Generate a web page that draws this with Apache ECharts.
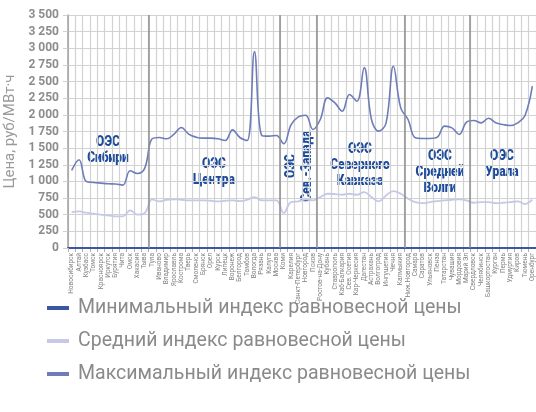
<!DOCTYPE html>
<html>
<head>
<meta charset="utf-8">
<script src="https://cdn.jsdelivr.net/npm/echarts@6/dist/echarts.min.js"></script>
<style>
  html, body { margin: 0; padding: 0; background: #ffffff; }
  #chart { width: 536px; height: 412px; }
</style>
</head>
<body>
<div id="chart"></div>
<script>
// Regions of the energy systems (ОЭС), in axis order
const categories = [
  'Новосибирск', 'Алтай', 'Кузбасс', 'Томск', 'Красноярск', 'Иркутск', 'Бурятия', 'Чита', 'Омск', 'Хакасия', 'Тыва',
  'Тула', 'Иваново', 'Владимир', 'Ярославль', 'Кострома', 'Тверь', 'Смоленск', 'Брянск', 'Орел', 'Курск', 'Липецк',
  'Воронеж', 'Белгород', 'Тамбов', 'Вологда', 'Рязань', 'Калуга', 'Москва',
  'Коми', 'Карелия', 'Санкт-Петербург', 'Новгород', 'Псков',
  'Ростов-на-Дону', 'Кубань', 'Ставрополь', 'Каб-Балкария', 'Сев. Осетия', 'Кар-Черкесия', 'Дагестан', 'Астрахань',
  'Волгоград', 'Ингушетия', 'Чечня', 'Калмыкия',
  'Ниж.Новгород', 'Самара', 'Саратов', 'Ульяновск', 'Пенза', 'Татарстан', 'Чувашия', 'Мордовия', 'Марий Эл',
  'Свердловск', 'Челябинск', 'Башкортостан', 'Курган', 'Пермь', 'Удмуртия', 'Киров', 'Тюмень', 'Оренбург'
];

// Minimum equilibrium price index, руб/МВт·ч
const minIndex = [
  0, 0, 0, 0, 0, 0, 0, 0, 0, 0, 0,
  0, 0, 0, 0, 0, 0, 0, 0, 0, 0, 0,
  0, 0, 0, 0, 0, 0, 0,
  0, 0, 0, 0, 0,
  0, 0, 0, 0, 0, 0, 0, 0,
  0, 0, 0, 0,
  0, 0, 0, 0, 0, 0, 0, 0, 0,
  0, 0, 0, 0, 0, 0, 0, 0, 0
];

// Average equilibrium price index, руб/МВт·ч
const avgIndex = [
  540, 550, 530, 515, 500, 490, 475, 475, 565, 500, 525,
  730, 700, 725, 730, 725, 715, 715, 715, 710, 700, 710,
  715, 705, 725, 765, 715, 715, 715,
  525, 690, 700, 730, 715,
  765, 815, 810, 800, 815, 800, 840, 765,
  700, 790, 855, 815,
  740, 690, 675, 690, 705, 715, 725, 730, 715,
  680, 690, 690, 675, 680, 690, 700, 660, 725
];

// Maximum equilibrium price index, руб/МВт·ч
const maxIndex = [
  1165, 1325, 1000, 985, 975, 965, 962, 945, 1160, 1120, 1200,
  1640, 1660, 1640, 1710, 1810, 1710, 1665, 1650, 1650, 1640, 1615,
  1775, 1660, 1615, 2950, 1690, 1680, 1690,
  1565, 1850, 1970, 1995, 1780,
  1930, 2255, 2180, 2055, 2305, 2205, 2710, 1930,
  1755, 1880, 2730, 2105,
  1930, 1655, 1645, 1645, 1665, 1830, 1805, 1705, 1890,
  1915, 1880, 1950, 1880, 1855, 1840, 1880, 1990, 2430
];

// Category index where each next energy system begins
const regionBounds = [11, 29, 34, 46, 55];

// Value axis ticks
const yMin = 0, yMax = 3500, yStep = 250;

const seriesNames = [
  'Минимальный индекс равновесной цены',
  'Средний индекс равновесной цены',
  'Максимальный индекс равновесной цены'
];

const FONT = "Roboto, 'Liberation Sans', sans-serif";
const C_MIN = '#3b56a5', C_AVG = '#c6c9e6', C_MAX = '#6e7cba';
const C_REGION = '#1b4a9b';

const chart = echarts.init(document.getElementById('chart'), null, { renderer: 'canvas' });

function groupDigits(v) {
  return String(v).replace(/\B(?=(\d{3})+(?!\d))/g, ' ');
}

// Bold condensed caption for an energy-system block
function regionText(text, x, y, rotation) {
  return {
    type: 'text', x: x, y: y, rotation: rotation || 0, scaleX: 0.8, silent: true,
    style: {
      text: text, textAlign: 'center', textVerticalAlign: 'middle',
      fill: C_REGION, font: '900 15px ' + FONT, lineHeight: 16
    }
  };
}

const option = {
  animation: false,
  backgroundColor: '#ffffff',
  grid: { left: 68, right: 0, top: 15, bottom: 164, containLabel: false, outerBoundsMode: 'none' },
  xAxis: [
    {
      type: 'category',
      position: 'bottom',
      data: categories,
      boundaryGap: true,
      axisLine: { show: true, onZero: false, lineStyle: { color: C_MIN, width: 2 } },
      axisTick: { show: true, interval: 0, length: 4, lineStyle: { color: '#b0b0b0' } },
      axisLabel: {
        interval: 0, rotate: 90, fontSize: 6.5, color: '#808080',
        fontFamily: FONT, margin: 5
      },
      splitLine: { show: true, interval: 0, lineStyle: { color: '#d2d2d2', width: 1.2 } }
    },
    { type: 'value', position: 'top', min: 0, max: categories.length, show: false }
  ],
  yAxis: {
    type: 'value',
    min: yMin, max: yMax, interval: yStep,
    name: 'Цена, руб/МВт·ч',
    nameLocation: 'middle',
    nameRotate: 90,
    nameGap: 46,
    nameTextStyle: { fontSize: 15, color: '#9a9a9a', fontFamily: FONT },
    axisLine: { show: true, lineStyle: { color: '#a0a0a0', width: 1.5 } },
    axisTick: { show: true, length: 5, lineStyle: { color: '#cfcfcf' } },
    axisLabel: {
      fontSize: 12, fontWeight: 'bold', color: '#8c8c8c', fontFamily: FONT, margin: 9,
      formatter: groupDigits
    },
    splitLine: { show: true, lineStyle: { color: '#d2d2d2', width: 1.2 } }
  },
  legend: {
    orient: 'vertical',
    left: 42, top: 291,
    itemWidth: 22, itemHeight: 4, itemGap: 9,
    icon: 'rect',
    data: seriesNames,
    textStyle: { fontSize: 19.5, color: '#8a8a8a', fontFamily: FONT, padding: [0, 0, 0, 4], lineHeight: 24 }
  },
  series: [
    {
      name: 'bounds', type: 'line', xAxisIndex: 1, data: [], silent: true,
      markLine: {
        silent: true, symbol: 'none', label: { show: false },
        lineStyle: { color: '#8e8e8e', width: 1.5, type: 'solid' },
        data: regionBounds.map(b => ({ xAxis: b }))
      }
    },
    {
      name: seriesNames[1], type: 'line', data: avgIndex, smooth: 0.4,
      symbol: 'none', lineStyle: { color: C_AVG, width: 1.8 }, itemStyle: { color: C_AVG }
    },
    {
      name: seriesNames[2], type: 'line', data: maxIndex, smooth: 0.4,
      symbol: 'none', lineStyle: { color: C_MAX, width: 1.6 }, itemStyle: { color: C_MAX }
    },
    {
      name: seriesNames[0], type: 'line', data: minIndex,
      symbol: 'none', lineStyle: { color: C_MIN, width: 2.2 }, itemStyle: { color: C_MIN }
    }
  ],
  graphic: [
    regionText('ОЭС\nСибири', 108, 150),
    regionText('ОЭС\nЦентра', 214, 172),
    regionText('ОЭС\nСев.-Запада', 299, 166, Math.PI / 2),
    regionText('ОЭС\nСеверного\nКавказа', 360, 165),
    regionText('ОЭС\nСредней\nВолги', 440, 172),
    regionText('ОЭС\nУрала', 502, 164)
  ]
};

chart.setOption(option);
</script>
</body>
</html>
